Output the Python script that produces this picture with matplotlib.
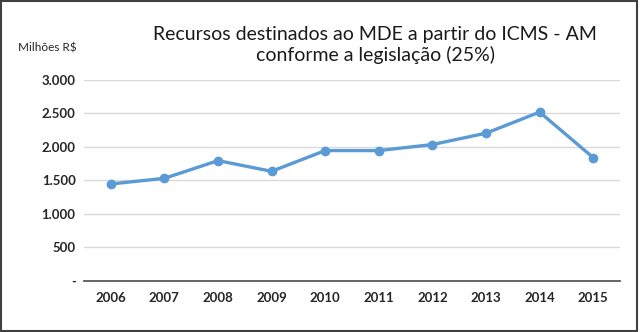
import matplotlib
matplotlib.use("Agg")
import matplotlib.pyplot as plt
from matplotlib.patches import Rectangle

years = ["2006", "2007", "2008", "2009", "2010", "2011", "2012", "2013", "2014", "2015"]
values = [1446, 1530, 1795, 1635, 1945, 1945, 2035, 2205, 2520, 1840]
yticks = [0, 500, 1000, 1500, 2000, 2500, 3000]
ytick_labels = ["-", "500", "1.000", "1.500", "2.000", "2.500", "3.000"]
title = "Recursos destinados ao MDE a partir do ICMS - AM\nconforme a legislação (25%)"
unit_label = "Milhões R$"

plt.rcParams['font.family'] = ['Lato', 'DejaVu Sans']

fig = plt.figure(figsize=(6.4, 3.32), dpi=100)
ax = fig.add_axes([84/640, (332-280.7)/332, (620-84)/640, (280.7-80)/332])

x = list(range(len(years)))
ax.plot(x, values, color="#5B9BD5", lw=2.4, marker="o", markersize=6,
        markeredgecolor="#5B9BD5", markerfacecolor="#5B9BD5", zorder=3)

ax.set_xlim(-0.5, len(years) - 0.5)
ax.set_ylim(0, 3000)
ax.set_yticks(yticks)
ax.set_yticklabels(ytick_labels, fontsize=9.5, fontweight="bold", color="#262626")
ax.set_xticks(x)
ax.set_xticklabels(years, fontsize=9.5, fontweight="bold", color="#262626")
ax.tick_params(axis="both", length=0)
ax.tick_params(axis="y", pad=6)
ax.tick_params(axis="x", pad=8)

ax.grid(axis="y", color="#D9D9D9", lw=1.0)
ax.set_axisbelow(True)
for s in ["left", "right", "top"]:
    ax.spines[s].set_visible(False)
ax.spines["bottom"].set_color("#595959")
ax.spines["bottom"].set_linewidth(1.3)
ax.spines["bottom"].set_zorder(2.5)

fig.text(375/640, 1 - 45/332, title, ha="center", va="center",
         fontsize=14, color="#1a1a1a", linespacing=1.25)
fig.text(18/640, 1 - 48/332, unit_label, ha="left", va="center",
         fontsize=8.5, color="#262626")

fig.patches.append(Rectangle((0.002, 0.003), 0.994, 0.994, transform=fig.transFigure,
                             fill=False, edgecolor="#404040", lw=1.5))

fig.savefig("out.png", dpi=100)
